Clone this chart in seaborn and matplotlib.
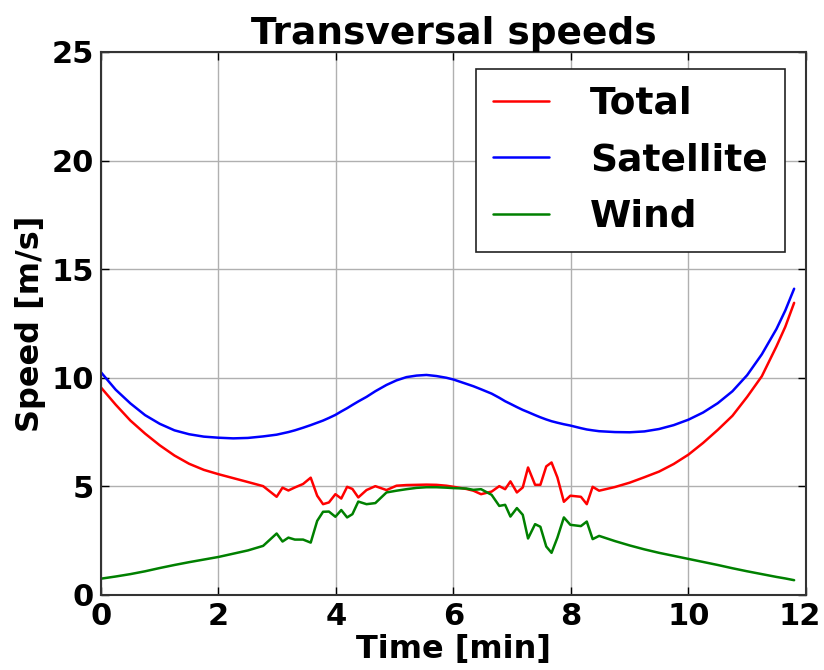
import matplotlib
matplotlib.use("Agg")
import matplotlib.pyplot as plt
import matplotlib.transforms as mtransforms
import seaborn as sns
import pandas as pd

# Sample times [min]
time_min = [
    0.00, 0.25, 0.50, 0.75, 1.00, 1.25, 1.50, 1.75, 2.00, 2.25, 2.50,
    2.76, 2.99, 3.09, 3.19, 3.30, 3.44, 3.57, 3.68, 3.78, 3.88, 3.99,
    4.09, 4.19, 4.28, 4.38, 4.52, 4.67, 4.86, 5.03, 5.20, 5.37, 5.54,
    5.71, 5.88, 6.00, 6.22, 6.34, 6.47, 6.65, 6.78, 6.88, 6.97, 7.08,
    7.18, 7.27, 7.39, 7.48, 7.58, 7.67, 7.77, 7.88, 7.99, 8.17, 8.27,
    8.37, 8.48, 8.75, 9.00, 9.25, 9.50, 9.75, 10.00, 10.25, 10.50,
    10.75, 11.00, 11.25, 11.50, 11.65, 11.80,
]

# Transversal speed components [m/s]
total = [
    9.55, 8.76, 8.03, 7.43, 6.89, 6.42, 6.04, 5.76, 5.56, 5.38, 5.20,
    5.01, 4.52, 4.94, 4.81, 4.95, 5.11, 5.40, 4.57, 4.18, 4.26, 4.64,
    4.44, 4.98, 4.88, 4.49, 4.83, 5.01, 4.83, 5.03, 5.06, 5.07, 5.08,
    5.07, 5.03, 4.98, 4.88, 4.80, 4.64, 4.76, 5.01, 4.87, 5.23, 4.72,
    4.95, 5.87, 5.07, 5.07, 5.92, 6.10, 5.41, 4.29, 4.57, 4.52, 4.18,
    4.98, 4.80, 4.97, 5.17, 5.42, 5.68, 6.03, 6.46, 7.00, 7.60,
    8.25, 9.12, 10.07, 11.45, 12.35, 13.45,
]

satellite = [
    10.25, 9.45, 8.82, 8.28, 7.88, 7.58, 7.40, 7.29, 7.24, 7.21, 7.23,
    7.30, 7.38, 7.44, 7.50, 7.58, 7.70, 7.82, 7.93, 8.03, 8.15, 8.29,
    8.45, 8.60, 8.75, 8.91, 9.12, 9.38, 9.67, 9.88, 10.03, 10.10, 10.13,
    10.08, 10.00, 9.92, 9.72, 9.61, 9.47, 9.27, 9.08, 8.92, 8.80, 8.65,
    8.52, 8.42, 8.28, 8.18, 8.08, 8.00, 7.93, 7.86, 7.80, 7.68, 7.62,
    7.58, 7.54, 7.50, 7.49, 7.53, 7.64, 7.82, 8.07, 8.40, 8.83,
    9.38, 10.12, 11.08, 12.25, 13.10, 14.10,
]

wind = [
    0.75, 0.85, 0.96, 1.09, 1.24, 1.38, 1.51, 1.63, 1.75, 1.90, 2.05,
    2.26, 2.83, 2.46, 2.64, 2.55, 2.55, 2.41, 3.41, 3.83, 3.84, 3.60,
    3.91, 3.57, 3.72, 4.30, 4.18, 4.23, 4.72, 4.80, 4.87, 4.93, 4.96,
    4.96, 4.94, 4.92, 4.90, 4.84, 4.87, 4.61, 4.10, 4.15, 3.61, 4.00,
    3.69, 2.60, 3.26, 3.14, 2.23, 1.94, 2.64, 3.57, 3.23, 3.17, 3.38,
    2.57, 2.72, 2.48, 2.28, 2.10, 1.94, 1.80, 1.66, 1.52, 1.38,
    1.23, 1.09, 0.96, 0.83, 0.76, 0.68,
]

series_names = ["Total", "Satellite", "Wind"]
series_colors = ["red", "blue", "green"]
x_ticks = [0, 2, 4, 6, 8, 10, 12]
y_ticks = [0, 5, 10, 15, 20, 25]

frames = []
for name, values in zip(series_names, [total, satellite, wind]):
    frames.append(pd.DataFrame({"Time": time_min, "Speed": values, "Series": name}))
df = pd.concat(frames, ignore_index=True)

sns.set_style("whitegrid")
plt.rcParams["font.family"] = ["DejaVu Sans"]
plt.rcParams["font.weight"] = "bold"
plt.rcParams["text.color"] = "black"
plt.rcParams["axes.labelcolor"] = "black"

fig = plt.figure(figsize=(8.24, 6.70), dpi=100)
ax = fig.add_axes([0.1226, 0.112, 0.8554, 0.8104])

sns.lineplot(
    data=df, x="Time", y="Speed", hue="Series",
    hue_order=series_names, palette=dict(zip(series_names, series_colors)),
    estimator=None, sort=False, linewidth=1.8, ax=ax,
)

ax.set_xlim(0, 12)
ax.set_ylim(0, 25)
ax.set_xticks(x_ticks)
ax.set_yticks(y_ticks)
ax.tick_params(axis="both", which="major", labelsize=22, direction="in",
               length=6, width=1, top=True, right=True, bottom=True, left=True,
               pad=5, colors="black")
for lbl in ax.get_xticklabels() + ax.get_yticklabels():
    lbl.set_fontweight("bold")

# keep the rightmost time label inside the figure edge
last = ax.get_xticklabels()[-1]
last.set_transform(last.get_transform()
                   + mtransforms.ScaledTranslation(-6 / 100, 0, fig.dpi_scale_trans))

ax.grid(True, color="#b0b0b0", linewidth=1.0, linestyle="-")
for spine in ax.spines.values():
    spine.set_visible(True)
    spine.set_color("#333333")
    spine.set_linewidth(1.5)

ax.set_title("Transversal speeds", fontsize=27, fontweight="bold", pad=6)
ax.set_xlabel("Time [min]", fontsize=23, fontweight="bold", labelpad=2)
ax.set_ylabel("Speed [m/s]", fontsize=23, fontweight="bold", labelpad=4)

leg = ax.legend(
    loc="upper right", fontsize=27, frameon=True, fancybox=False,
    edgecolor="#222222", framealpha=1.0, borderpad=0.45,
    handlelength=1.5, handletextpad=1.1, labelspacing=0.55,
    borderaxespad=0.0, bbox_to_anchor=(0.970, 0.969),
)
leg.get_frame().set_linewidth(1.2)
for t in leg.get_texts():
    t.set_fontweight("bold")
for h in leg.get_lines():
    h.set_linewidth(1.8)

fig.savefig("out.png", dpi=100)
